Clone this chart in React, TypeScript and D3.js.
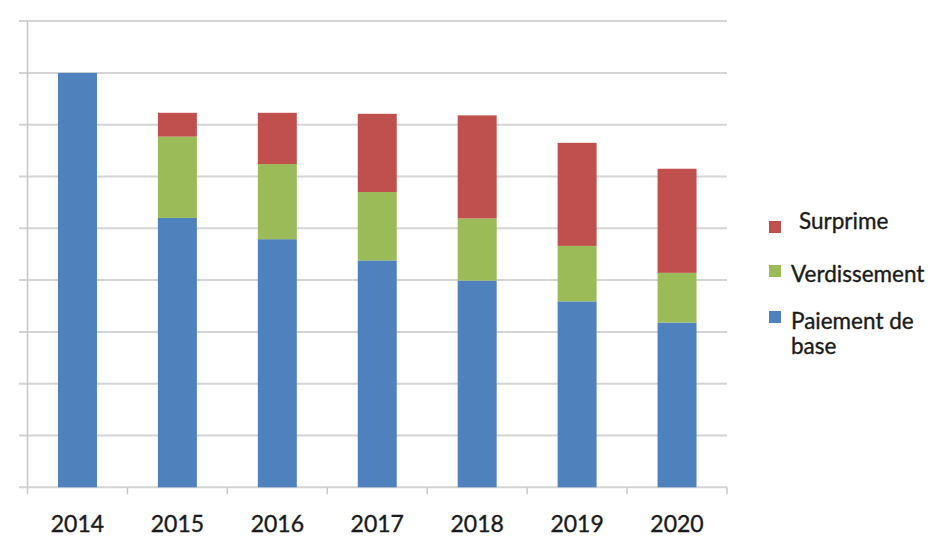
import React from "react";
import * as d3 from "d3";

const years = ["2014", "2015", "2016", "2017", "2018", "2019", "2020"];
const paiementDeBase = [8.0, 5.2, 4.79, 4.38, 3.99, 3.59, 3.18];
const verdissement = [0, 1.57, 1.45, 1.32, 1.2, 1.07, 0.96];
const surprime = [0, 0.46, 0.99, 1.51, 1.99, 1.99, 2.01];
const yTicks = [0, 1, 2, 3, 4, 5, 6, 7, 8, 9];

const seriesKeys = ["base", "verd", "surp"];
const seriesColors = ["#4F81BD", "#9BBB59", "#C0504D"];
const legendLabels = [["Surprime"], ["Verdissement"], ["Paiement de", "base"]];
const legendColors = ["#C0504D", "#9BBB59", "#4F81BD"];

export default function App() {
  const W = 939;
  const H = 545;
  const left = 27.5;
  const right = 727;
  const bottom = 487.3;
  const top = 21.1;

  const table = years.map((y, i) => ({
    year: y,
    base: paiementDeBase[i],
    verd: verdissement[i],
    surp: surprime[i],
  }));
  const stack = d3.stack<any>().keys(seriesKeys)(table);

  const x = d3
    .scaleBand<string>()
    .domain(years)
    .range([left, right])
    .paddingInner(0.61)
    .paddingOuter(0.305);
  const y = d3.scaleLinear().domain([0, 9]).range([bottom, top]);
  const step = x.step();
  const font = "Lato, 'Open Sans', sans-serif";

  const sqY = [221, 265, 311];
  const txtX = [799, 791, 791];
  const baseY = [229, 282, 329];

  return (
    <svg
      width={W}
      height={H}
      style={{ position: "absolute", left: 0, top: 0, background: "#fff" }}
    >
      {yTicks.map((t) => (
        <line
          key={"g" + t}
          x1={19}
          x2={right}
          y1={y(t)}
          y2={y(t)}
          stroke="#d4d4d4"
          strokeWidth={2}
        />
      ))}
      <line x1={left} x2={left} y1={top} y2={bottom} stroke="#c8c8c8" strokeWidth={1.5} />
      {d3.range(years.length + 1).map((i) => (
        <line
          key={"t" + i}
          x1={left + i * step}
          x2={left + i * step}
          y1={bottom}
          y2={bottom + 7}
          stroke="#c8c8c8"
          strokeWidth={1.5}
        />
      ))}
      {stack.map((s, si) =>
        s.map((d, i) =>
          d[1] - d[0] > 0 ? (
            <rect
              key={si + "-" + i}
              x={x(years[i])}
              width={x.bandwidth()}
              y={y(d[1])}
              height={y(d[0]) - y(d[1])}
              fill={seriesColors[si]}
            />
          ) : null
        )
      )}
      {years.map((yr) => (
        <text
          key={"l" + yr}
          x={(x(yr) as number) + x.bandwidth() / 2}
          y={532}
          textAnchor="middle"
          fontFamily={font}
          fontSize={23}
          fill="#1a1a1a"
          stroke="#1a1a1a"
          strokeWidth={0.35}
        >
          {yr}
        </text>
      ))}
      {legendLabels.map((lines, i) => (
        <g key={"lg" + i}>
          <rect x={769} y={sqY[i]} width={12} height={12} fill={legendColors[i]} />
          {lines.map((ln, j) => (
            <text
              key={j}
              x={txtX[i]}
              y={baseY[i] + j * 25}
              fontFamily={font}
              fontSize={22.5}
              fill="#1a1a1a"
              stroke="#1a1a1a"
              strokeWidth={0.35}
            >
              {ln}
            </text>
          ))}
        </g>
      ))}
    </svg>
  );
}
